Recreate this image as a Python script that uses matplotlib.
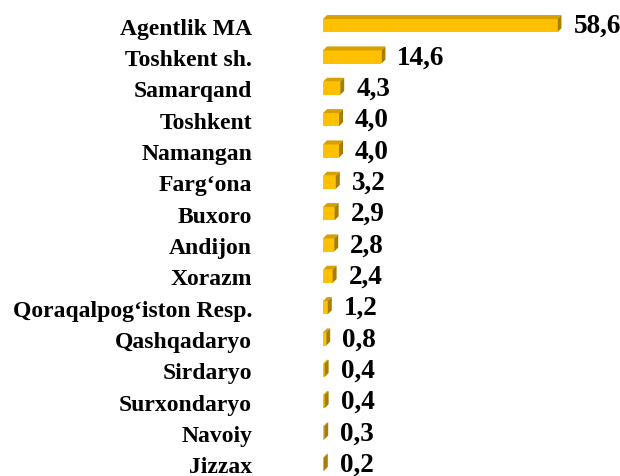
import numpy as np
import matplotlib.pyplot as plt
from matplotlib.patches import Polygon

# hududlar va ulushlar (%)
hududlar = ['Agentlik MA', 'Toshkent sh.', 'Samarqand', 'Toshkent', 'Namangan',
            'Farg‘ona', 'Buxoro', 'Andijon', 'Xorazm', 'Qoraqalpog‘iston Resp.',
            'Qashqadaryo', 'Sirdaryo', 'Surxondaryo', 'Navoiy', 'Jizzax']
qiymatlar = [58.6, 14.6, 4.3, 4.0, 4.0, 3.2, 2.9, 2.8, 2.4, 1.2, 0.8, 0.4, 0.4, 0.3, 0.2]
yorliqlar = [f'{v:.1f}'.replace('.', ',') for v in qiymatlar]

old_rang = '#FFC000'
ust_rang = '#D6A000'
yon_rang = '#A87E00'

W, H, DPI = 620, 477, 100
fig = plt.figure(figsize=(W / DPI, H / DPI), dpi=DPI)
ax_l, ax_w = 323, 290
ax_h = 470
ax = fig.add_axes([ax_l / W, -4 / H, ax_w / W, ax_h / H])

xmax = 72.5
n = len(hududlar)
ax.set_xlim(0, xmax)
ax.set_ylim(n - 0.5, -0.5)

y = np.arange(n)
h = 0.42
px_x = ax_w / xmax          # piksel / birlik
px_y = ax_h / n             # piksel / qator
dx = 4 / px_x
dy = 4 / px_y

ax.barh(y, qiymatlar, height=h, color=old_rang, edgecolor='none', zorder=3)
for yi, v in zip(y, qiymatlar):
    yt = yi - h / 2
    yb = yi + h / 2
    ust = Polygon([(0, yt), (v, yt), (v + dx, yt - dy), (dx, yt - dy)],
                  closed=True, facecolor=ust_rang, edgecolor='none', zorder=3)
    yon = Polygon([(v, yt), (v + dx, yt - dy), (v + dx, yb - dy), (v, yb)],
                  closed=True, facecolor=yon_rang, edgecolor='none', zorder=3)
    ax.add_patch(ust)
    ax.add_patch(yon)

for yi, v, t in zip(y, qiymatlar, yorliqlar):
    ax.annotate(t, (v, yi), xytext=(11.5, 0), textcoords='offset points',
                va='center', ha='left', fontsize=19.5, fontweight='bold',
                family='Liberation Serif', color='black')

ax.set_yticks(y)
ax.set_yticklabels(hududlar, fontsize=17, fontweight='bold', family='Liberation Serif')
ax.tick_params(axis='y', length=0, pad=51)
ax.set_xticks([])
for s in ax.spines.values():
    s.set_visible(False)

fig.savefig('out.png', dpi=DPI)
